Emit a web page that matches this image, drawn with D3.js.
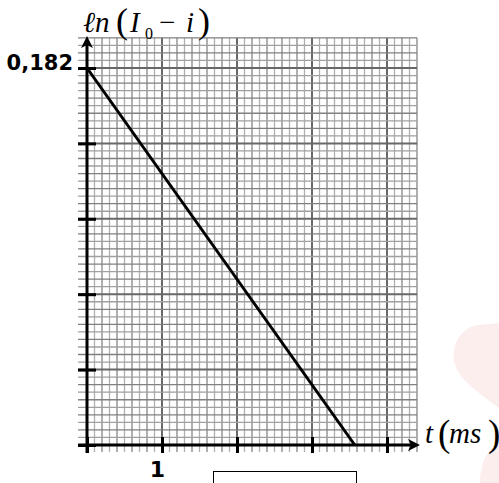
<!DOCTYPE html>
<html><head><meta charset="utf-8">
<script src="https://cdn.jsdelivr.net/npm/d3@7"></script>
<style>html,body{margin:0;padding:0;background:#fff;}svg{display:block;}</style>
</head><body>
<script>
// ---- data ----
const lineT = [0, 3.57];           // t (ms)
const lineY = [0.182, 0];          // ln(I0 - i)
const xMajorTicks = [0, 1, 2, 3, 4];
const xTickLabels = ["", "1", "", "", ""];
const yMajorTicks = [0, 0.0364, 0.0728, 0.1092, 0.1456, 0.182];
const yTickLabels = ["", "", "", "", "", "0,182"];
const xDomain = [0, 4.4];
const yDomain = [0, 0.19656];

const W = 499, H = 483;
const svg = d3.select("body").append("svg").attr("width", W).attr("height", H);

const x = d3.scaleLinear().domain(xDomain).range([87, 87 + 4.4 * 75]);
const y = d3.scaleLinear().domain([0, 0.182]).range([445, 68]);

// watermark
svg.append("path").attr("fill", "#fdeeee")
  .attr("d", "M499,323 L478,325 C458,328 450,350 455,365 C460,380 478,392 499,408 Z");
svg.append("path").attr("fill", "#fdeeee")
  .attr("d", "M499,445 C488,448 480,462 480,483 L499,483 Z");

// grid
const grid = svg.append("g");
const xMinor = d3.range(0, 45).map(i => i / 10);
const yMinor = d3.range(0, 55).map(i => i * 0.00364);
grid.selectAll(".vx").data(xMinor).join("line")
  .attr("x1", d => x(d)).attr("x2", d => x(d))
  .attr("y1", y(yDomain[1])).attr("y2", 452)
  .attr("stroke", (d, i) => i % 10 === 0 ? "#686868" : (i % 2 ? "#b0b0b0" : "#858585"))
  .attr("stroke-width", (d, i) => i % 10 === 0 ? 2 : 1.3);
grid.selectAll(".hy").data(yMinor).join("line")
  .attr("y1", d => y(d)).attr("y2", d => y(d))
  .attr("x1", 78).attr("x2", x(xDomain[1]))
  .attr("stroke", (d, i) => i % 10 === 0 ? "#686868" : (i % 2 ? "#a0a0a0" : "#808080"))
  .attr("stroke-width", (d, i) => i % 10 === 0 ? 2 : 1.3);

// axes lines
svg.append("line").attr("x1", 78).attr("x2", 414).attr("y1", y(0)).attr("y2", y(0))
  .attr("stroke", "#000").attr("stroke-width", 3);
svg.append("line").attr("x1", x(0)).attr("x2", x(0)).attr("y1", 453).attr("y2", 42)
  .attr("stroke", "#000").attr("stroke-width", 3);
// arrows
svg.append("path").attr("fill", "#000")
  .attr("d", `M420,${y(0)} L408,${y(0)-6} L411,${y(0)} L408,${y(0)+6} Z`);
svg.append("path").attr("fill", "#000")
  .attr("d", `M${x(0)},36 L${x(0)-6},48 L${x(0)},45 L${x(0)+6},48 Z`);

// x axis ticks
const xAxis = d3.axisBottom(x).tickValues(xMajorTicks).tickSize(16)
  .tickFormat((d, i) => xTickLabels[i]).tickPadding(6);
const gx = svg.append("g").attr("transform", `translate(0,${y(0) - 8})`).call(xAxis);
gx.select(".domain").remove();
gx.selectAll(".tick line").attr("stroke", "#000").attr("stroke-width", 3);
gx.selectAll(".tick text").attr("fill", "#000")
  .attr("font-family", "DejaVu Sans").attr("font-weight", "bold").attr("font-size", 22)
  .attr("dx", -5).attr("dy", "0.8em");

// y axis ticks
const yAxis = d3.axisLeft(y).tickValues(yMajorTicks).tickSize(18)
  .tickFormat((d, i) => yTickLabels[i]).tickPadding(5);
const gy = svg.append("g").attr("transform", `translate(${x(0) + 9},0)`).call(yAxis);
gy.select(".domain").remove();
gy.selectAll(".tick line").attr("stroke", "#000").attr("stroke-width", 3);
gy.selectAll(".tick text").attr("fill", "#000")
  .attr("font-family", "DejaVu Sans").attr("font-weight", "bold").attr("font-size", 21)
  .attr("dy", "0.05em");

// data line
svg.append("path").datum(lineT.map((t, i) => [t, lineY[i]]))
  .attr("fill", "none").attr("stroke", "#000").attr("stroke-width", 3)
  .attr("d", d3.line().x(d => x(d[0])).y(d => y(d[1])));

// axis titles
const ylab = svg.append("text").attr("y", 32)
  .attr("font-family", "Liberation Serif").attr("font-size", 29).attr("fill", "#000");
ylab.append("tspan").attr("x", 83).attr("font-style", "italic").text("ℓn");
ylab.append("tspan").attr("x", 116).attr("font-size", 36).attr("y", 33).text("(");
ylab.append("tspan").attr("x", 130).attr("y", 32).attr("font-style", "italic").text("I");
ylab.append("tspan").attr("x", 145).attr("y", 39).attr("font-size", 16).text("0");
ylab.append("tspan").attr("x", 159).attr("y", 32).text("−");
ylab.append("tspan").attr("x", 186).attr("font-style", "italic").text("i");
ylab.append("tspan").attr("x", 198).attr("font-size", 36).attr("y", 33).text(")");

const xlab = svg.append("text").attr("y", 443)
  .attr("font-family", "Liberation Serif").attr("font-size", 29).attr("fill", "#000");
xlab.append("tspan").attr("x", 425).attr("font-style", "italic").text("t");
xlab.append("tspan").attr("x", 438).attr("y", 446).attr("font-size", 37).text("(");
xlab.append("tspan").attr("x", 449).attr("y", 443).attr("font-style", "italic").text("ms");
xlab.append("tspan").attr("x", 488).attr("y", 446).attr("font-size", 37).text(")");

// empty answer box
svg.append("rect").attr("x", 213.5).attr("y", 471.5).attr("width", 143).attr("height", 30)
  .attr("fill", "none").attr("stroke", "#000").attr("stroke-width", 1);
</script>
</body></html>
